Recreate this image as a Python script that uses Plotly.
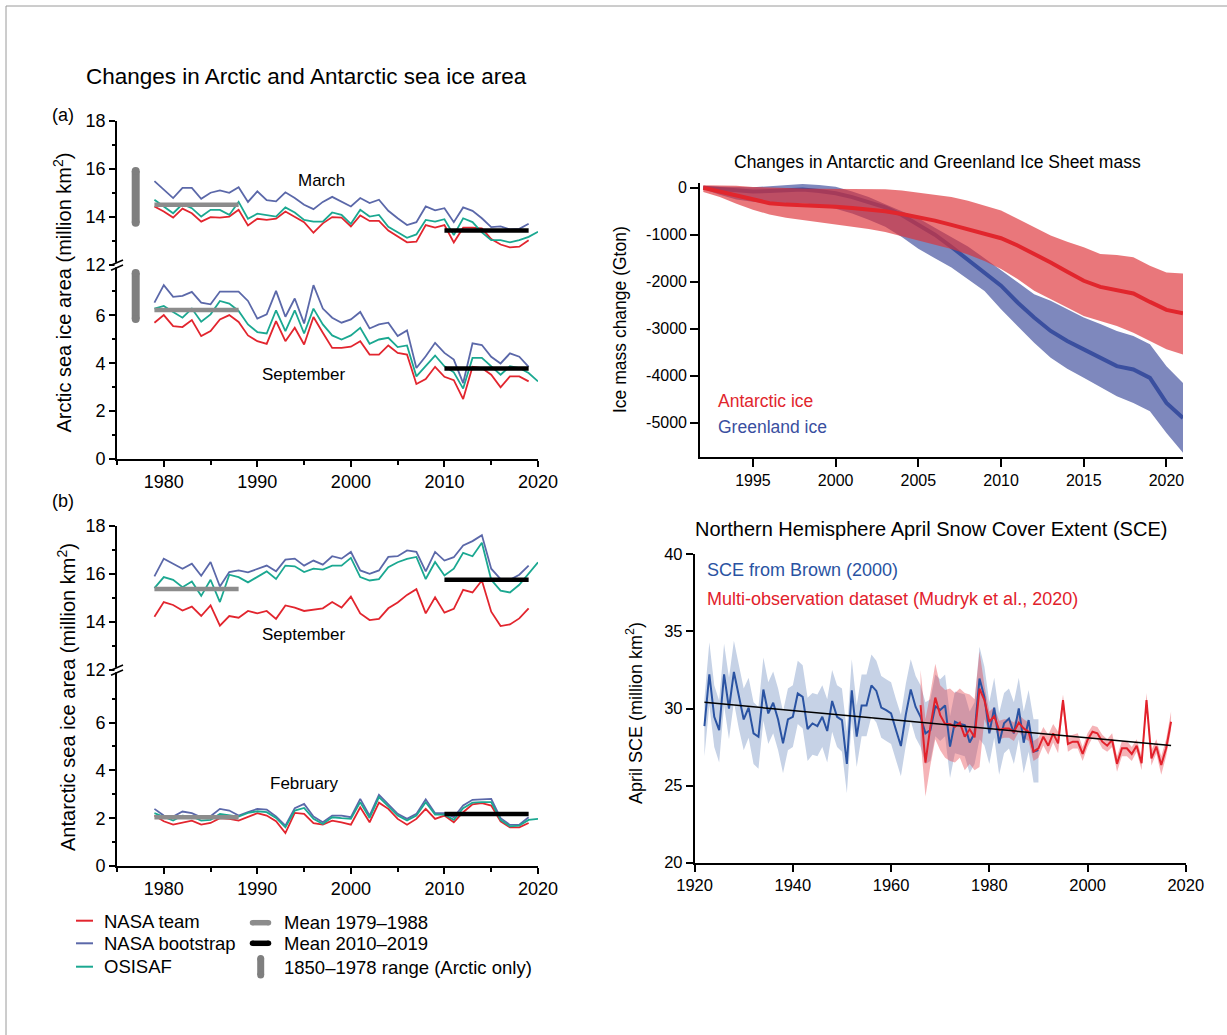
import plotly.graph_objects as go

W, H = 1227, 1035


def fx(p):
    return p / W


def fy(p):
    return 1 - p / H


SANS = "Liberation Sans, Arial, Helvetica, sans-serif"
NARROW = "Liberation Sans Narrow, Arial Narrow, Liberation Sans, Arial, sans-serif"

# ---------------------------------------------------------------- data
years_nasa = list(range(1979, 2020))
years_osi = list(range(1979, 2021))

arc_mar_team = [14.43, 14.22, 13.97, 14.34, 14.15, 13.80, 13.99, 13.97, 14.01, 14.29,
                13.64, 13.92, 13.87, 13.92, 14.22, 14.01, 13.78, 13.34, 13.73, 13.99,
                13.97, 13.60, 14.06, 13.83, 13.83, 13.43, 13.17, 12.94, 12.97, 13.66,
                13.55, 13.66, 12.94, 13.55, 13.55, 13.52, 13.08, 12.85, 12.73, 12.76, 13.03]
arc_mar_boot = [15.48, 15.13, 14.78, 15.20, 15.20, 14.75, 15.00, 15.10, 15.00, 15.23,
                14.62, 15.06, 14.69, 14.64, 15.02, 14.78, 14.50, 14.32, 14.62, 14.83,
                14.64, 14.43, 14.78, 14.57, 14.71, 14.25, 13.94, 13.66, 13.78, 14.43,
                14.27, 14.36, 13.78, 14.39, 14.25, 13.94, 13.57, 13.60, 13.48, 13.50, 13.71]
arc_mar_osi = [14.71, 14.43, 14.15, 14.53, 14.36, 14.01, 14.29, 14.29, 14.08, 14.62,
               13.92, 14.13, 14.08, 14.01, 14.39, 14.18, 13.87, 13.80, 13.80, 14.18,
               14.08, 13.71, 14.29, 14.01, 14.08, 13.59, 13.36, 13.13, 13.27, 13.87,
               13.80, 13.90, 13.24, 13.94, 13.78, 13.36, 13.03, 13.03, 12.94, 13.03, 13.17, 13.38]

arc_sep_team = [5.69, 6.01, 5.55, 5.51, 5.80, 5.13, 5.34, 5.83, 6.01, 5.72,
                5.16, 4.92, 4.81, 5.76, 4.92, 5.48, 4.78, 5.93, 5.27, 4.64,
                4.64, 4.69, 4.92, 4.36, 4.36, 4.74, 4.43, 4.36, 3.13, 3.34,
                3.85, 3.43, 3.29, 2.50, 3.85, 3.80, 3.52, 2.99, 3.45, 3.45, 3.24]
arc_sep_boot = [6.53, 7.26, 6.77, 6.81, 6.98, 6.53, 6.46, 6.99, 6.99, 6.99,
                6.60, 5.86, 6.04, 7.02, 5.94, 6.70, 5.66, 7.26, 6.28, 5.90,
                5.69, 5.83, 6.14, 5.45, 5.62, 5.69, 5.13, 5.37, 3.80, 4.29,
                4.85, 4.43, 4.15, 3.17, 4.83, 4.76, 4.27, 3.99, 4.41, 4.27, 3.85]
arc_sep_osi = [6.28, 6.39, 6.14, 5.90, 6.28, 5.73, 6.04, 6.60, 6.49, 6.18,
               5.62, 5.30, 5.24, 6.21, 5.34, 6.21, 5.24, 6.28, 5.62, 5.16,
               4.99, 5.16, 5.48, 4.81, 4.99, 5.06, 4.67, 4.74, 3.45, 3.87,
               4.32, 3.87, 3.62, 2.94, 4.22, 4.22, 3.85, 3.52, 3.87, 3.80, 3.59, 3.24]

ant_sep_team = [14.22, 14.83, 14.71, 14.48, 14.64, 14.25, 14.69, 13.85, 14.25, 14.18,
                14.46, 14.36, 14.46, 14.13, 14.69, 14.60, 14.46, 14.53, 14.57, 14.83,
                14.60, 15.06, 14.36, 14.08, 14.13, 14.57, 14.81, 15.13, 15.37, 14.36,
                15.03, 14.39, 14.55, 15.34, 15.23, 15.73, 14.43, 13.83, 13.90, 14.15, 14.57]
ant_sep_boot = [15.90, 16.64, 16.43, 16.22, 16.43, 15.93, 16.50, 15.48, 16.08, 16.15,
                16.07, 16.22, 16.35, 16.11, 16.60, 16.64, 16.35, 16.56, 16.39, 16.74,
                16.64, 16.92, 16.15, 16.01, 16.15, 16.71, 16.74, 16.98, 16.92, 16.11,
                16.92, 16.56, 16.70, 17.19, 17.37, 17.62, 16.22, 15.79, 15.76, 15.97, 16.35]
ant_sep_osi = [15.41, 15.87, 15.76, 15.45, 15.69, 15.09, 15.76, 14.83, 15.97, 15.87,
               15.65, 15.87, 16.11, 15.79, 16.35, 16.32, 16.08, 16.22, 16.18, 16.35,
               16.35, 16.67, 15.87, 15.73, 15.79, 16.28, 16.49, 16.63, 16.71, 15.79,
               16.50, 15.94, 16.22, 16.88, 16.74, 17.30, 15.76, 15.31, 15.23, 15.55, 16.04, 16.49]

ant_feb_team = [2.11, 1.87, 1.73, 1.83, 1.90, 1.73, 1.80, 2.00, 1.97, 1.90,
                2.04, 2.21, 2.11, 1.87, 1.38, 2.22, 2.18, 1.79, 1.73, 1.90,
                1.83, 1.73, 2.46, 1.83, 2.65, 2.39, 1.97, 1.73, 1.97, 2.39,
                1.97, 2.11, 1.83, 2.25, 2.58, 2.63, 2.53, 1.87, 1.62, 1.62, 1.80]
ant_feb_boot = [2.39, 2.11, 2.07, 2.28, 2.21, 2.04, 2.08, 2.39, 2.32, 2.11,
                2.25, 2.39, 2.36, 2.07, 1.69, 2.42, 2.60, 2.07, 1.83, 2.11,
                2.11, 2.04, 2.81, 2.11, 2.98, 2.60, 2.18, 1.97, 2.18, 2.79,
                2.21, 2.21, 2.04, 2.53, 2.77, 2.79, 2.81, 2.00, 1.72, 1.73, 2.04]
ant_feb_osi = [2.21, 2.04, 1.90, 2.11, 2.07, 1.90, 1.93, 2.18, 2.11, 2.07,
               2.22, 2.29, 2.25, 2.01, 1.62, 2.32, 2.43, 1.97, 1.76, 2.04,
               2.00, 1.97, 2.67, 2.01, 2.88, 2.49, 2.11, 1.90, 2.11, 2.67,
               2.15, 2.15, 1.93, 2.42, 2.65, 2.67, 2.67, 1.93, 1.66, 1.69, 1.93, 1.97]

mean_early_years = [1979, 1988]
mean_late_years = [2010, 2019]
arc_mar_means = [14.50, 13.43]
arc_sep_means = [6.22, 3.78]
ant_sep_means = [15.38, 15.76]
ant_feb_means = [2.04, 2.18]

range_year = 1977
arc_mar_range = [13.75, 15.90]
arc_sep_range = [5.85, 7.77]

ice_years = list(range(1992, 2022))
ant_mid = [0, -80, -170, -260, -330, -360, -370, -390, -405, -430,
           -455, -500, -560, -625, -700, -790, -880, -980, -1075, -1230,
           -1400, -1590, -1790, -1980, -2110, -2170, -2250, -2430, -2600, -2670]
ant_hi = [50, 50, 40, 15, 0, -10, -15, -20, -20, -25,
          -30, -35, -60, -107, -150, -200, -280, -377, -484, -662,
          -840, -1018, -1150, -1268, -1410, -1431, -1481, -1660, -1802, -1823]
ant_lo = [-90, -200, -340, -470, -570, -640, -690, -740, -790, -830,
          -880, -940, -1030, -1125, -1210, -1303, -1420, -1560, -1730, -1944,
          -2194, -2372, -2550, -2728, -2840, -2942, -3084, -3262, -3440, -3547]
grn_mid = [0, -30, -60, -80, -70, -50, -40, -70, -120, -200,
           -300, -420, -580, -780, -1000, -1260, -1540, -1800, -2085, -2443,
           -2763, -3048, -3262, -3440, -3618, -3797, -3868, -4046, -4580, -4900]
grn_hi = [30, 20, 10, 10, 30, 60, 80, 60, 20, -80,
          -200, -350, -500, -650, -850, -1050, -1250, -1500, -1750, -2000,
          -2265, -2407, -2580, -2764, -2900, -3048, -3155, -3333, -3797, -4153]
grn_lo = [-30, -150, -250, -300, -330, -330, -330, -370, -450, -550,
          -680, -830, -1050, -1300, -1500, -1700, -1950, -2200, -2585, -2950,
          -3300, -3618, -3850, -4046, -4250, -4437, -4580, -4758, -5221, -5640]

brown_years = list(range(1922, 1991))
brown_sce = [28.86, 32.22, 29.46, 28.60, 32.22, 30.00, 32.37, 30.75, 29.29, 30.06,
             28.39, 28.17, 31.23, 29.68, 30.37, 29.29, 27.74, 29.29, 29.46, 30.97,
             30.75, 28.67, 29.03, 28.86, 29.46, 28.54, 30.49, 29.46, 29.25, 26.41,
             31.18, 28.17, 30.20, 30.20, 31.50, 31.14, 30.06, 29.89, 29.68, 28.60,
             27.57, 29.60, 31.23, 30.10, 29.46, 28.39, 28.60, 30.15, 29.90, 30.20,
             27.53, 29.14, 28.99, 28.92, 27.80, 28.40, 31.94, 30.75, 28.39, 30.06,
             27.74, 29.05, 29.35, 28.39, 30.00, 27.78, 29.25, 27.20, 27.30]
brown_hi = [30.6, 34.3, 31.5, 30.5, 34.2, 32.0, 34.4, 32.8, 31.3, 32.0,
            30.4, 30.1, 33.3, 31.7, 32.4, 31.3, 29.8, 31.3, 31.5, 33.1,
            32.8, 30.7, 31.0, 30.9, 31.5, 30.6, 32.5, 31.5, 31.3, 28.5,
            33.2, 30.2, 32.2, 32.2, 33.5, 33.1, 32.1, 31.9, 31.7, 30.6,
            29.6, 31.6, 33.2, 32.1, 31.5, 30.4, 30.6, 32.2, 31.9, 32.2,
            29.5, 31.1, 31.0, 30.9, 29.8, 30.4, 34.0, 32.7, 30.4, 32.0,
            29.7, 31.0, 31.3, 30.4, 32.0, 29.8, 31.2, 29.3, 29.3]
brown_lo = [26.9, 30.2, 27.5, 26.5, 30.2, 28.0, 30.4, 28.7, 27.3, 28.1,
            26.4, 26.1, 29.2, 27.7, 28.4, 27.3, 25.8, 27.3, 27.5, 29.0,
            28.7, 26.6, 27.0, 26.9, 27.5, 26.5, 28.5, 27.5, 27.2, 24.5,
            29.2, 26.2, 28.2, 28.2, 29.5, 29.1, 28.1, 27.9, 27.7, 26.6,
            25.6, 27.6, 29.2, 28.1, 27.5, 26.4, 26.6, 28.2, 27.9, 28.2,
            25.5, 27.1, 27.0, 26.9, 25.8, 26.4, 28.0, 27.6, 26.4, 28.1,
            25.7, 27.1, 27.4, 26.4, 28.0, 25.8, 27.2, 25.2, 25.2]

mudryk_years = list(range(1966, 2018))
mudryk_sce = [30.22, 26.49, 28.82, 30.71, 29.57, 28.99, 28.99, 28.82, 29.08, 28.17,
              28.65, 28.13, 31.29, 30.54, 29.14, 29.50, 28.60, 28.71, 28.71, 28.49,
              29.08, 28.71, 28.49, 27.20, 27.42, 28.17, 27.59, 28.39, 27.74, 30.54,
              27.70, 27.85, 27.85, 27.05, 27.96, 28.49, 28.39, 27.85, 27.59, 27.96,
              26.41, 27.42, 27.42, 27.05, 27.59, 26.45, 30.54, 26.77, 27.53, 26.34,
              27.42, 29.14]
mudryk_hi = [32.5, 29.3, 31.0, 32.9, 31.5, 31.2, 31.3, 31.0, 31.3, 31.0,
             30.9, 30.6, 33.7, 31.5, 29.8, 30.1, 29.2, 29.3, 29.3, 29.1,
             29.6, 29.3, 29.1, 27.9, 28.1, 28.8, 28.3, 29.0, 28.5, 30.9,
             28.2, 28.3, 28.4, 27.5, 28.4, 28.9, 28.8, 28.3, 28.0, 28.4,
             26.9, 27.9, 27.9, 27.5, 28.0, 26.9, 31.0, 27.3, 28.0, 26.9,
             28.0, 29.8]
mudryk_lo = [28.0, 24.3, 26.3, 28.0, 27.3, 26.8, 26.6, 26.5, 26.8, 26.0,
             26.4, 26.0, 26.2, 29.3, 28.4, 28.8, 28.0, 28.1, 28.1, 27.9,
             28.5, 28.1, 27.9, 26.6, 26.8, 27.6, 27.0, 27.8, 27.1, 30.0,
             27.2, 27.4, 27.4, 26.6, 27.5, 28.1, 28.0, 27.4, 27.2, 27.5,
             25.9, 26.9, 26.9, 26.6, 27.2, 26.0, 30.1, 26.3, 27.1, 25.7,
             26.9, 28.6]
trend_years = [1922, 2017]
trend_sce = [30.4, 27.6]

# ---------------------------------------------------------------- colours
C_TEAM = "#e2252e"
C_BOOT = "#5b68a9"
C_OSI = "#1ba891"
C_GRAY = "#8c8c8c"
C_RANGE = "#7f7f7f"
C_ANT_LINE = "#e1262d"
C_ANT_BAND = "rgba(222,48,55,0.66)"
C_GRN_LINE = "#3a4f9f"
C_GRN_BAND = "#7e88bd"
C_BROWN = "#2a53a2"
C_BROWN_BAND = "#c6d2e6"
C_MUD = "#e2212b"
C_MUD_BAND = "rgba(230,55,65,0.38)"

fig = go.Figure()


def line(x, y, xa, ya, color, width):
    fig.add_trace(go.Scatter(x=x, y=y, xaxis=xa, yaxis=ya, mode="lines",
                             line=dict(color=color, width=width),
                             hoverinfo="skip", showlegend=False))


def band(x, hi, lo, xa, ya, color):
    xs = list(x) + list(x)[::-1]
    ys = list(hi) + list(lo)[::-1]
    fig.add_trace(go.Scatter(x=xs, y=ys, xaxis=xa, yaxis=ya, mode="lines",
                             line=dict(width=0), fill="toself", fillcolor=color,
                             hoverinfo="skip", showlegend=False))


sea_panels = [
    ("x", "y", arc_sep_team, arc_sep_boot, arc_sep_osi, arc_sep_means, arc_sep_range),
    ("x2", "y2", arc_mar_team, arc_mar_boot, arc_mar_osi, arc_mar_means, arc_mar_range),
    ("x3", "y3", ant_feb_team, ant_feb_boot, ant_feb_osi, ant_feb_means, None),
    ("x4", "y4", ant_sep_team, ant_sep_boot, ant_sep_osi, ant_sep_means, None),
]
for xa, ya, team, boot, osi, means, rng in sea_panels:
    line(years_nasa, boot, xa, ya, C_BOOT, 1.8)
    line(years_nasa, team, xa, ya, C_TEAM, 1.8)
    line(years_osi, osi, xa, ya, C_OSI, 1.8)
    line(mean_early_years, [means[0], means[0]], xa, ya, C_GRAY, 4.5)
    line(mean_late_years, [means[1], means[1]], xa, ya, "black", 4.5)
    if rng is not None:
        fig.add_trace(go.Scatter(x=[range_year, range_year], y=rng, xaxis=xa, yaxis=ya,
                                 mode="lines+markers",
                                 line=dict(color=C_RANGE, width=8),
                                 marker=dict(size=8, color=C_RANGE, line=dict(width=0)),
                                 hoverinfo="skip", showlegend=False))

# ice sheet mass
band(ice_years, grn_hi, grn_lo, "x5", "y5", C_GRN_BAND)
line(ice_years, grn_mid, "x5", "y5", C_GRN_LINE, 4)
band(ice_years, ant_hi, ant_lo, "x5", "y5", C_ANT_BAND)
line(ice_years, ant_mid, "x5", "y5", C_ANT_LINE, 4)

# snow cover
band(brown_years, brown_hi, brown_lo, "x6", "y6", C_BROWN_BAND)
band(mudryk_years, mudryk_hi, mudryk_lo, "x6", "y6", C_MUD_BAND)
line(brown_years, brown_sce, "x6", "y6", C_BROWN, 2)
line(mudryk_years, mudryk_sce, "x6", "y6", C_MUD, 2)
line(trend_years, trend_sce, "x6", "y6", "black", 1.5)

# ---------------------------------------------------------------- axes
AX_LINE = dict(showline=True, linecolor="black", linewidth=1.6, showgrid=False,
               zeroline=False, ticks="outside", tickcolor="black", tickwidth=1.5,
               automargin=False)

sea_xdom = [fx(117), fx(538)]


def sea_x(anchor, visible):
    if visible:
        return dict(AX_LINE, domain=sea_xdom, range=[1975, 2020], anchor=anchor,
                    tickvals=[1980, 1990, 2000, 2010, 2020], ticklen=6,
                    minor=dict(tickvals=[1975, 1985, 1995, 2005, 2015], ticks="outside",
                               ticklen=4, tickwidth=1.5, tickcolor="black", showgrid=False),
                    tickfont=dict(family=SANS, size=18, color="black"))
    return dict(domain=sea_xdom, range=[1975, 2020], anchor=anchor, showline=False,
                showticklabels=False, ticks="", showgrid=False, zeroline=False,
                automargin=False)


def sea_y(anchor, dom, rng, vals, minors):
    return dict(AX_LINE, domain=dom, range=rng, anchor=anchor, tickvals=vals, ticklen=6,
                minor=dict(tickvals=minors, ticks="outside", ticklen=3.5, tickwidth=1.5,
                           tickcolor="black", showgrid=False),
                tickfont=dict(family=SANS, size=18, color="black"))


layout = dict(
    template="none",
    width=W, height=H, autosize=False,
    margin=dict(l=0, r=0, t=0, b=0, pad=0),
    paper_bgcolor="white", plot_bgcolor="white",
    showlegend=False,
    xaxis=sea_x("y", True),
    yaxis=sea_y("x", [fy(459), fy(265)], [0, 8.1], [0, 2, 4, 6], [1, 3, 5, 7]),
    xaxis2=sea_x("y2", False),
    yaxis2=sea_y("x2", [fy(265), fy(120.5)], [12, 18], [12, 14, 16, 18], [13, 15, 17]),
    xaxis3=sea_x("y3", True),
    yaxis3=sea_y("x3", [fy(866), fy(670)], [0, 8.2], [0, 2, 4, 6], [1, 3, 5, 7]),
    xaxis4=sea_x("y4", False),
    yaxis4=sea_y("x4", [fy(670), fy(526)], [12, 18], [12, 14, 16, 18], [13, 15, 17]),
    xaxis5=dict(AX_LINE, domain=[fx(700), fx(1183)], range=[1991.8, 2021], anchor="y5",
                tickvals=[1995, 2000, 2005, 2010, 2015, 2020], ticklen=8,
                tickfont=dict(family=NARROW, size=16, color="black")),
    yaxis5=dict(AX_LINE, domain=[fy(457), fy(183)], range=[-5730, 100], anchor="x5",
                tickvals=[0, -1000, -2000, -3000, -4000, -5000],
                ticktext=["0", "-1000", "-2000", "-3000", "-4000", "-5000"], ticklen=8,
                tickfont=dict(family=NARROW, size=16, color="black")),
    xaxis6=dict(AX_LINE, domain=[fx(694.6), fx(1185.8)], range=[1920, 2020], anchor="y6",
                tickvals=[1920, 1940, 1960, 1980, 2000, 2020], ticklen=7,
                tickfont=dict(family=NARROW, size=16.5, color="black")),
    yaxis6=dict(AX_LINE, domain=[fy(862.7), fy(554.3)], range=[20, 40], anchor="x6",
                tickvals=[20, 25, 30, 35, 40], ticklen=7,
                tickfont=dict(family=NARROW, size=16.5, color="black")),
)
fig.update_layout(**layout)

# ---------------------------------------------------------------- texts
ann = []


def text(t, x, y, size, family=SANS, color="black", xanchor="center", angle=0):
    ann.append(dict(text=t, x=fx(x), y=fy(y), xref="paper", yref="paper",
                    xanchor=xanchor, yanchor="middle", showarrow=False, textangle=angle,
                    font=dict(family=family, size=size, color=color)))


text("Changes in Arctic and Antarctic sea ice area", 306.5, 77, 22.5)
text("(a)", 63.3, 115.5, 18)
text("(b)", 63.3, 501, 18)
text("March", 321.7, 180, 17)
text("September", 303.8, 374.5, 17)
text("September", 303.3, 634.5, 17)
text("February", 304, 783.3, 17)
text("Arctic sea ice area (million km<sup>2</sup>)", 62.6, 293, 20, angle=-90)
text("Antarctic sea ice area (million km<sup>2</sup>)", 66, 697, 20, angle=-90)

text("Changes in Antarctic and Greenland Ice Sheet mass", 937, 162, 17.5, NARROW)
text("Ice mass change (Gton)", 620, 320, 17.5, NARROW, angle=-90)
text("Antarctic ice", 716, 401, 17.5, NARROW, C_ANT_LINE, "left")
text("Greenland ice", 716, 427, 17.5, NARROW, C_GRN_LINE, "left")

text("Northern Hemisphere April Snow Cover Extent (SCE)", 931, 529, 20, NARROW)
text("April SCE (million km<sup>2</sup>)", 634, 713, 18, NARROW, angle=-90)
text("SCE from Brown (2000)", 705, 570, 18, NARROW, C_BROWN, "left")
text("Multi-observation dataset (Mudryk et al., 2020)", 705, 599, 18, NARROW, C_MUD, "left")

# legend of the sea-ice panels
text("NASA team", 101.7, 921, 18.5, xanchor="left")
text("NASA bootstrap", 101.7, 943.5, 18.5, xanchor="left")
text("OSISAF", 101.7, 966.7, 18.5, xanchor="left")
text("Mean 1979–1988", 281.7, 922, 18.5, xanchor="left")
text("Mean 2010–2019", 281.7, 943, 18.5, xanchor="left")
text("1850–1978 range (Arctic only)", 281.7, 967.5, 18.5, xanchor="left")
fig.update_layout(annotations=ann)

# ---------------------------------------------------------------- shapes
shapes = []


def seg(x0, y0, x1, y1, color, width):
    shapes.append(dict(type="line", xref="paper", yref="paper", x0=fx(x0), y0=fy(y0),
                       x1=fx(x1), y1=fy(y1), line=dict(color=color, width=width), layer="above"))


# legend swatches
seg(76, 920.7, 93, 920.7, C_TEAM, 2)
seg(76, 943.3, 93, 943.3, C_BOOT, 2)
seg(76, 966.7, 93, 966.7, C_OSI, 2)
seg(252.5, 922.7, 268.5, 922.7, C_GRAY, 5.5)
seg(252.5, 943.3, 268.5, 943.3, "black", 5.5)
seg(260.7, 958.5, 260.7, 975, C_RANGE, 7)
for cy in (958.5, 975):
    shapes.append(dict(type="circle", xref="paper", yref="paper",
                       x0=fx(257.2), x1=fx(264.2), y0=fy(cy - 3.5), y1=fy(cy + 3.5),
                       fillcolor=C_RANGE, line=dict(width=0), layer="above"))
for cx in (252.5, 268.5):
    for cy, col in ((922.7, C_GRAY), (943.3, "black")):
        shapes.append(dict(type="circle", xref="paper", yref="paper",
                           x0=fx(cx - 2.75), x1=fx(cx + 2.75), y0=fy(cy - 2.75), y1=fy(cy + 2.75),
                           fillcolor=col, line=dict(width=0), layer="above"))

# axis breaks
for by in (265, 670):
    shapes.append(dict(type="rect", xref="paper", yref="paper", x0=fx(114.5), x1=fx(119.5),
                       y0=fy(by + 2.3), y1=fy(by - 2.3), fillcolor="white",
                       line=dict(width=0), layer="above"))
    seg(111, by + 0.2, 123, by - 5.0, "black", 1.5)
    seg(111, by + 5.2, 123, by, "black", 1.5)

# page frame
shapes.append(dict(type="rect", xref="paper", yref="paper", x0=fx(6), x1=fx(1300),
                   y0=fy(1100), y1=fy(6), line=dict(color="#9a9a9a", width=1),
                   fillcolor="rgba(0,0,0,0)", layer="above"))
fig.update_layout(shapes=shapes)

fig.write_html(
    "out.html",
    config={"displayModeBar": False},
    post_script="document.body.style.margin='0';document.body.style.overflow='hidden';",
)
